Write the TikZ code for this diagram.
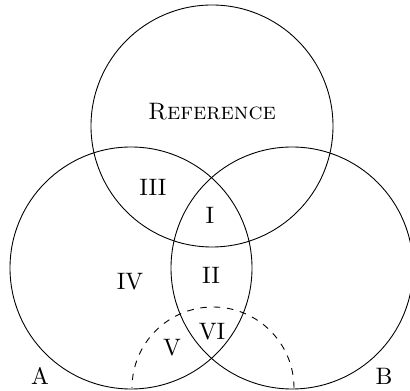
\documentclass[tikz,border=0pt]{standalone}
\usepackage{tikz}
\usetikzlibrary{calc}

\begin{document}
\begin{tikzpicture}[x=0.45pt,y=0.45pt,
  set/.style={draw,thin},
  extra/.style={draw,thin,dashed},
  lbl/.style={inner sep=0pt,font=\fontsize{10.7}{13}\selectfont}
]
\useasboundingbox (0,0) rectangle (410,391);
\coordinate (ref) at (212,265);
\coordinate (a) at (131,123);
\coordinate (b) at (292,123);
\coordinate (c) at (213,3);
% the three sets
\draw[set] (ref) circle (121);
\draw[set] (a) circle (121);
\draw[set] (b) circle (121);
% dashed half circle at the bottom
\draw[extra] ($(c)+(81,0)$) arc (0:180:81);
% regions
\node[lbl] (nref) at (212,279) {\textsc{Reference}};
\node[lbl] (n3) at (153,204) {III};
\node[lbl] (n1) at (210,176) {I};
\node[lbl] (n2) at (211,116) {II};
\node[lbl] (n4) at (130,109) {IV};
\node[lbl] (n5) at (172,43) {V};
\node[lbl] (n6) at (212,59) {VI};
\node[lbl] (na) at (40,15) {A};
\node[lbl] (nb) at (384,15) {B};
\end{tikzpicture}
\end{document}
